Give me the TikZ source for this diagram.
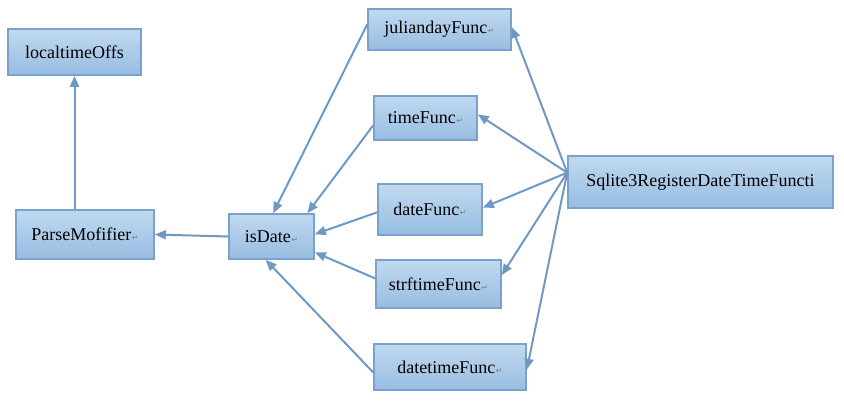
\documentclass[tikz,border=0pt]{standalone}
\usepackage{fontspec}
\setmainfont{Liberation Serif}
\newfontfamily\boxfont{Liberation Serif}
\newfontfamily\symfont{DejaVu Sans}
\usetikzlibrary{arrows.meta}
\definecolor{edgeblue}{RGB}{112,152,196}
\definecolor{boxborder}{RGB}{122,162,202}
\definecolor{boxtop}{RGB}{192,217,240}
\definecolor{boxbot}{RGB}{152,189,225}
\newcommand\retsym{{\symfont\fontsize{8}{8}\selectfont\color{gray}\kern0.5pt↵}}
\begin{document}
\begin{tikzpicture}[x=1pt,y=-1pt,
  box/.style={draw=boxborder,line width=1.6pt,top color=boxtop,bottom color=boxbot,
    inner sep=0pt,font=\boxfont\fontsize{18}{20}\selectfont,text=black},
  arr/.style={draw=edgeblue,line width=2pt,-{Triangle[length=11pt,width=9pt]}}]
\useasboundingbox (0,0) rectangle (844,400);
\node[box,minimum width=133pt,minimum height=46pt] (lo) at (74.5,52) {localtimeOffs};
\node[box,minimum width=138pt,minimum height=49pt] (pm) at (85,234.5) {ParseMofifier\retsym};
\node[box,minimum width=85pt,minimum height=45pt] (id) at (271.5,236.5) {isDate\retsym};
\node[box,minimum width=143pt,minimum height=41pt] (jd) at (439.5,29.5) {juliandayFunc\retsym};
\node[box,minimum width=103pt,minimum height=44pt] (tf) at (425.5,118) {timeFunc\retsym};
\node[box,minimum width=104pt,minimum height=51pt] (df) at (430,209.5) {dateFunc\retsym};
\node[box,minimum width=125pt,minimum height=48pt] (sf) at (438.5,284) {strftimeFunc\retsym};
\node[box,minimum width=152pt,minimum height=46pt] (dt) at (450,367) {datetimeFunc\retsym};
\node[box,minimum width=265pt,minimum height=52pt] (sq) at (700.5,182) {Sqlite3RegisterDateTimeFuncti};
\draw[arr] (lo.south |- pm.north) -- (lo.south);
\draw[arr] (id.west) -- (pm.east);
\draw[arr] (jd.176) -- (id.86);
\draw[arr] (tf.188) -- (id.33);
\draw[arr] (df.183) -- (id.3);
\draw[arr] (sf.175) -- (id.340);
\draw[arr] (dt.184) -- (id.256);
\draw[arr] (sq.176) -- (jd.2);
\draw[arr] (sq.176) -- (tf.4);
\draw[arr] (sq.176) -- (df.2);
\draw[arr] (sq.176) -- (sf.8);
\draw[arr] (sq.176) -- (dt.358);
\end{tikzpicture}
\end{document}
